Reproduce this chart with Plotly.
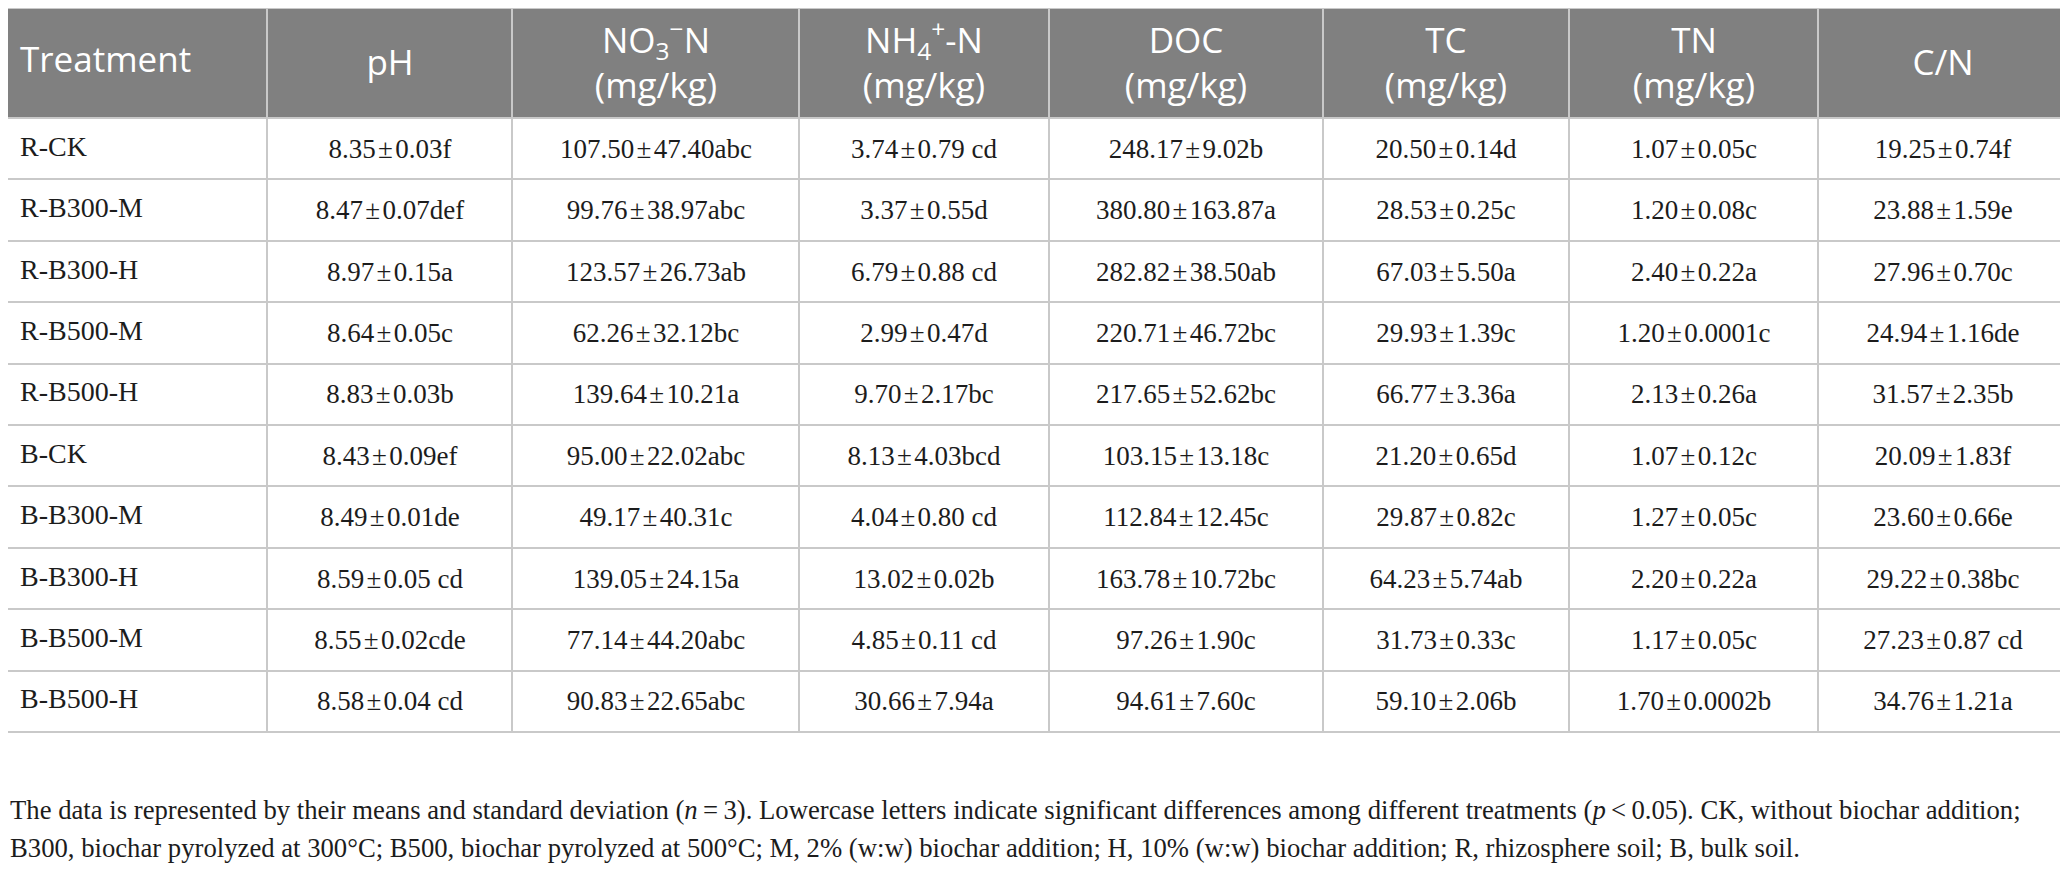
"""Soil properties table (treatment x property) rebuilt with Plotly heatmaps.

The grid is a pair of heatmaps with non-uniform brick edges: one for the grey
header row and one for the body. The gaps between bricks show a grey shape
underneath, which gives the cell borders.
"""

import plotly.graph_objects as go

# --- data -------------------------------------------------------------------
TREATMENTS = [
    "R-CK", "R-B300-M", "R-B300-H", "R-B500-M", "R-B500-H",
    "B-CK", "B-B300-M", "B-B300-H", "B-B500-M", "B-B500-H",
]
HEADERS = [
    "Treatment",
    "pH",
    "NO<sub>3</sub><sup>−</sup>N<br>(mg/kg)",
    "NH<sub>4</sub><sup>+</sup>-N<br>(mg/kg)",
    "DOC<br>(mg/kg)",
    "TC<br>(mg/kg)",
    "TN<br>(mg/kg)",
    "C/N",
]
PH = ["8.35±0.03f", "8.47±0.07def", "8.97±0.15a", "8.64±0.05c", "8.83±0.03b",
      "8.43±0.09ef", "8.49±0.01de", "8.59±0.05 cd", "8.55±0.02cde", "8.58±0.04 cd"]
NO3_N = ["107.50±47.40abc", "99.76±38.97abc", "123.57±26.73ab", "62.26±32.12bc",
         "139.64±10.21a", "95.00±22.02abc", "49.17±40.31c", "139.05±24.15a",
         "77.14±44.20abc", "90.83±22.65abc"]
NH4_N = ["3.74±0.79 cd", "3.37±0.55d", "6.79±0.88 cd", "2.99±0.47d", "9.70±2.17bc",
         "8.13±4.03bcd", "4.04±0.80 cd", "13.02±0.02b", "4.85±0.11 cd", "30.66±7.94a"]
DOC = ["248.17±9.02b", "380.80±163.87a", "282.82±38.50ab", "220.71±46.72bc",
       "217.65±52.62bc", "103.15±13.18c", "112.84±12.45c", "163.78±10.72bc",
       "97.26±1.90c", "94.61±7.60c"]
TC = ["20.50±0.14d", "28.53±0.25c", "67.03±5.50a", "29.93±1.39c", "66.77±3.36a",
      "21.20±0.65d", "29.87±0.82c", "64.23±5.74ab", "31.73±0.33c", "59.10±2.06b"]
TN = ["1.07±0.05c", "1.20±0.08c", "2.40±0.22a", "1.20±0.0001c", "2.13±0.26a",
      "1.07±0.12c", "1.27±0.05c", "2.20±0.22a", "1.17±0.05c", "1.70±0.0002b"]
C_N = ["19.25±0.74f", "23.88±1.59e", "27.96±0.70c", "24.94±1.16de", "31.57±2.35b",
       "20.09±1.83f", "23.60±0.66e", "29.22±0.38bc", "27.23±0.87 cd", "34.76±1.21a"]

FOOTNOTE_1 = (
    "The data is represented by their means and standard deviation (<i>n</i>\u2009=\u20093). "
    "Lowercase letters indicate significant differences among different treatments "
    "(<i>p</i>\u2009&lt;\u20090.05). CK, without biochar addition;"
)
FOOTNOTE_2 = (
    "B300, biochar pyrolyzed at 300°C; B500, biochar pyrolyzed at 500°C; "
    "M, 2% (w:w) biochar addition; H, 10% (w:w) biochar addition; "
    "R, rhizosphere soil; B, bulk soil."
)

# --- layout / style ---------------------------------------------------------
W, H = 2068, 880
PAGE_OFFSET = 8  # browser body margin; axes are shifted so units = page pixels
COL_WIDTHS = [267, 245, 287, 250, 274, 246, 249, 250]
TOP = 8
HEADER_H = 110
ROW_H = 61.4
FOOT_Y = 810
FOOT_GAP = 38
HEADER_GREY = "#808080"
LINE_GREY = "#c9c9c9"
TEXT_DARK = "#1c1c1c"
SANS = "Open Sans, Noto Sans, sans-serif"
SERIF = "Liberation Serif, DejaVu Serif, serif"
HEAD_SIZE = 35
BODY_SIZE = 27
FOOT_SIZE = 26.7


def _pm(s: str) -> str:
    # a little air around the plus/minus sign, like the typeset original
    return s.replace("±", "\u200a±\u200a")


x_edges = [0]
for w in COL_WIDTHS:
    x_edges.append(x_edges[-1] + w)
header_edges = [TOP, TOP + HEADER_H]
body_edges = [TOP + HEADER_H + i * ROW_H for i in range(len(TREATMENTS) + 1)]
row_mid = [(a + b) / 2 for a, b in zip(body_edges[:-1], body_edges[1:])]

columns = [PH, NO3_N, NH4_N, DOC, TC, TN, C_N]
body_text = [[""] + [_pm(col[i]) for col in columns] for i in range(len(TREATMENTS))]

fig = go.Figure()

# grey backing sheet: shows through the brick gaps as cell borders
fig.add_shape(
    type="rect", layer="below", line_width=0, fillcolor=LINE_GREY,
    x0=x_edges[0] - 1, x1=x_edges[-1] + 1, y0=TOP - 1, y1=body_edges[-1] + 1,
)

fig.add_heatmap(
    x=x_edges, y=header_edges, z=[[0] * len(HEADERS)],
    colorscale=[[0, HEADER_GREY], [1, HEADER_GREY]], zmin=0, zmax=1,
    showscale=False, xgap=2, ygap=2, hoverinfo="skip",
    text=[[""] + HEADERS[1:]], texttemplate="%{text}",
    textfont=dict(family=SANS, size=HEAD_SIZE, color="white"),
)
fig.add_heatmap(
    x=x_edges, y=body_edges, z=[[0] * len(HEADERS) for _ in TREATMENTS],
    colorscale=[[0, "white"], [1, "white"]], zmin=0, zmax=1,
    showscale=False, xgap=2, ygap=2, hoverinfo="skip",
    text=body_text, texttemplate="%{text}",
    textfont=dict(family=SERIF, size=BODY_SIZE, color=TEXT_DARK),
)

# first column is left aligned, so it goes in as plain text traces
fig.add_scatter(
    x=[x_edges[0] + 20], y=[sum(header_edges) / 2], mode="text",
    text=[HEADERS[0]], textposition="middle right", hoverinfo="skip",
    textfont=dict(family=SANS, size=HEAD_SIZE, color="white"), showlegend=False,
)
fig.add_scatter(
    x=[x_edges[0] + 20] * len(TREATMENTS), y=row_mid, mode="text",
    text=TREATMENTS, textposition="middle right", hoverinfo="skip",
    textfont=dict(family=SERIF, size=BODY_SIZE + 1, color=TEXT_DARK), showlegend=False,
)

# footnote sits at the very left of the page (paper x=0 is the page margin)
for i, line in enumerate([FOOTNOTE_1, FOOTNOTE_2]):
    fig.add_annotation(
        text=line, x=0, y=FOOT_Y + i * FOOT_GAP, xref="paper", yref="y",
        xanchor="left", yanchor="middle", showarrow=False,
        font=dict(family=SERIF, size=FOOT_SIZE, color=TEXT_DARK),
    )

fig.update_xaxes(range=[PAGE_OFFSET, W + PAGE_OFFSET], visible=False, fixedrange=True)
fig.update_yaxes(range=[H + PAGE_OFFSET, PAGE_OFFSET], visible=False, fixedrange=True)
fig.update_layout(
    width=W, height=H,
    margin=dict(l=0, r=0, t=0, b=0),
    paper_bgcolor="white", plot_bgcolor="white",
    showlegend=False,
)

fig.write_html("out.html")
